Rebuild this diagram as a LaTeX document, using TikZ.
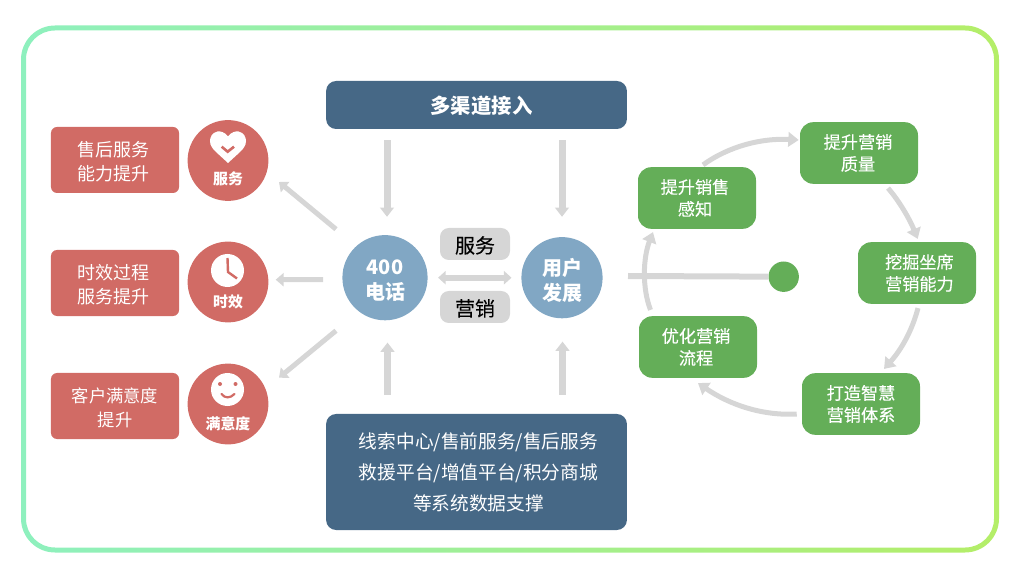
\documentclass[tikz,border=0pt]{standalone}
\usepackage{fontspec}
\newfontfamily\cjk{Noto Sans CJK SC}
\newfontfamily\cjkmed[FakeBold=0.25]{Noto Sans CJK SC}
\usetikzlibrary{arrows.meta}
\definecolor{framegreen}{HTML}{8EF0BE}
\definecolor{framelime}{HTML}{B4EE68}
\definecolor{boxred}{HTML}{D16B65}
\definecolor{boxblue}{HTML}{466886}
\definecolor{ballblue}{HTML}{81A7C4}
\definecolor{boxgreen}{HTML}{64AE58}
\definecolor{flowgray}{HTML}{D6D6D6}
\newcommand{\textdrop}[1]{\rule{0pt}{#1}}

\tikzset{
    redbox/.style={fill=boxred, text=white, rounded corners=1.5mm, minimum width=32mm, minimum height=16.5mm, align=center, inner sep=0pt, font=\cjk\fontsize{12.8}{17}\selectfont},
    redball/.style={circle, fill=boxred, minimum size=20.2mm, inner sep=0pt},
    iconlabel/.style={text=white, inner sep=0pt, font=\cjk\bfseries\fontsize{10.6}{13}\selectfont},
    bluebox/.style={fill=boxblue, text=white, rounded corners=2.5mm, minimum width=75.2mm, align=center, inner sep=0pt},
    blueball/.style={circle, fill=ballblue, text=white, inner sep=0pt, align=center, font=\cjk\bfseries\fontsize{14.2}{17.8}\selectfont},
    graybox/.style={fill=flowgray, text=black, rounded corners=2.2mm, minimum width=17.5mm, minimum height=8mm, inner sep=0pt, font=\cjkmed\fontsize{14.2}{18}\selectfont},
    greenbox/.style={fill=boxgreen, text=white, rounded corners=3.3mm, minimum width=29.5mm, minimum height=15.4mm, align=center, inner sep=0pt, font=\cjkmed\fontsize{12.2}{15.6}\selectfont},
    flowarrow/.style={draw=flowgray, line width=1.75mm, -{Triangle[length=2.3mm, width=3.4mm]}},
    flowthin/.style={draw=flowgray, line width=1.25mm, -{Triangle[length=2mm, width=3.3mm]}},
    flowcurve/.style={draw=flowgray, line width=1.25mm, -{Triangle[length=2.6mm, width=3.6mm]}},
}

\begin{document}
\begin{tikzpicture}[x=0.25mm, y=-0.25mm]

    \useasboundingbox (0,0) rectangle (1020,574);

    % Frame
    \shade[left color=framegreen, right color=framelime, even odd rule]
        [rounded corners=8.5mm] (21,25.5) rectangle (999,552.5)
        [rounded corners=7.2mm] (26,30.5) rectangle (994,547.5);

    % Left Column
    \node[redbox] (aftersale) at (115,160) {\textdrop{4.6mm}售后服务\hspace*{0.7mm}\\能力提升\hspace*{0.7mm}};
    \node[redbox] (timeline) at (115,283) {\textdrop{4.6mm}时效过程\hspace*{0.7mm}\\服务提升\hspace*{0.7mm}};
    \node[redbox, font=\cjk\fontsize{12.3}{17}\selectfont] (pleased) at (115,406) {\textdrop{4.6mm}客户满意度\\提升};
    \node[redball] (serviceball) at (228,160.5) {};
    \node[redball] (timeball) at (228,282) {};
    \node[redball] (pleasedball) at (228,404) {};
    \node[iconlabel] (servicetext) at (228,178.5) {服务};
    \node[iconlabel] (timetext) at (228,301.5) {时效};
    \node[iconlabel] (pleasedtext) at (228,424) {满意度};

    % Heart Icon
    \fill[white] (228,136.5) .. controls (225,132) and (220,131) .. (217.5,131.5)
        .. controls (212,132.5) and (210,137.5) .. (210,141)
        .. controls (210,146) and (213,149) .. (216,152) -- (228,163) -- (240,152)
        .. controls (243,149) and (246,146) .. (246,141)
        .. controls (246,137.5) and (244,132.5) .. (238.5,131.5)
        .. controls (236,131) and (231,132) .. (228,136.5) -- cycle;
    \draw[boxred, line width=0.65mm] (221.7,146.7) -- (227.7,151.7) -- (234,146.7);

    % Clock Icon
    \fill[white] (227.5,270.5) circle (16.5);
    \draw[boxred, line width=0.6mm] (227.5,258) -- (228,272) -- (237,278.5);

    % Smile Icon
    \fill[white] (227.5,389.5) circle (16.5);
    \fill[boxred] (220,384) circle (2) (235.5,384) circle (2);
    \draw[boxred, line width=0.55mm, line cap=round] (221.5,394) .. controls (225,398.5) and (230,398.5) .. (234.5,394);

    % Center
    \node[bluebox, minimum height=12mm, font=\cjk\bfseries\fontsize{14.5}{18}\selectfont] (access) at (476.5,105) {\textdrop{4.9mm}\hspace*{2.5mm}多渠道接入};
    \node[bluebox, minimum height=29mm, font=\cjk\fontsize{13.3}{22}\selectfont] (support) at (476.5,472) {\hspace*{1mm}线索中心/售前服务/售后服务\\\hspace*{1mm}救援平台/增值平台/积分商城\\\hspace*{1mm}等系统数据支撑};
    \node[blueball, minimum size=21.3mm] (phone) at (385,277.7) {\textdrop{5mm}400\\电话};
    \node[blueball, minimum size=20.3mm] (growth) at (562,277.7) {\textdrop{5.5mm}用户\\发展};
    \node[graybox] (servicetag) at (475,244) {\textdrop{4.9mm}服务};
    \node[graybox] (markettag) at (475,307) {\textdrop{4.9mm}营销};

    % Center Arrows
    \draw[flowarrow] ([shift={(-89.5,11)}]access.south) -- ([shift={(2,-18)}]phone.north);
    \draw[flowarrow] ([shift={(85.5,11)}]access.south) -- ([shift={(0,-20)}]growth.north);
    \draw[flowarrow] ([shift={(-89,-19)}]support.north) -- ([shift={(2.5,22)}]phone.south);
    \draw[flowarrow] ([shift={(86,-19)}]support.north) -- ([shift={(0.5,23)}]growth.south);
    \draw[draw=flowgray, line width=1.5mm, {Triangle[length=1.9mm, width=3.3mm]}-{Triangle[length=1.9mm, width=3.3mm]}]
        ([xshift=2.55mm]phone.east) -- ([xshift=-2.4mm]growth.west);

    % Left Arrows
    \draw[flowthin] ([shift={(-49,-48.5)}]phone.center) -- ([shift={(51,21.5)}]serviceball.center);
    \draw[flowthin] ([shift={(-62,2)}]phone.center) -- ([shift={(7,-2.3)}]timeball.east);
    \draw[flowthin] ([shift={(-49,53)}]phone.center) -- ([shift={(51,-26.3)}]pleasedball.center);

    % Right Cycle
    \node[greenbox] (sense) at (697,198) {提升销售\hspace*{1mm}\\感知\hspace*{1mm}};
    \node[greenbox] (quality) at (859,153) {提升营销\hspace*{0.5mm}\\质量\hspace*{0.5mm}};
    \node[greenbox] (ability) at (917,273) {\hspace*{1.2mm}挖掘坐席\\\hspace*{1.2mm}营销能力};
    \node[greenbox] (system) at (861,404) {打造智慧\\营销体系};
    \node[greenbox] (process) at (698,347) {优化营销\hspace*{1mm}\\流程\hspace*{1mm}};
    \node[circle, fill=boxgreen, minimum size=7.6mm, inner sep=0pt] (hub) at (783.7,276.7) {};

    % Hub Line
    \coordinate (hubstart) at (628,276);
    \draw[flowgray, line width=1.5mm] (hubstart) -- (hub);

    % Cycle Arrows
    \draw[flowcurve] ([shift={(6,-2)}]sense.north) .. controls (729,146) and (762,138) .. ([shift={(-1,-13)}]quality.west);
    \draw[flowcurve] ([shift={(29,4)}]quality.south) .. controls (900,202) and (910,220) .. ([shift={(0.7,-3)}]ability.north);
    \draw[flowcurve] ([shift={(1,4)}]ability.south) .. controls (912,331) and (901,350) .. ([shift={(23,-4)}]system.north);
    \draw[flowcurve] ([shift={(-5,10)}]system.west) .. controls (763,416) and (730,405) .. ([shift={(0,5)}]process.south);
    \draw[flowcurve] ([shift={(-47.5,-6)}]process.north) .. controls (642,288) and (643,258) .. ([shift={(-44,3)}]sense.south);

\end{tikzpicture}
\end{document}
